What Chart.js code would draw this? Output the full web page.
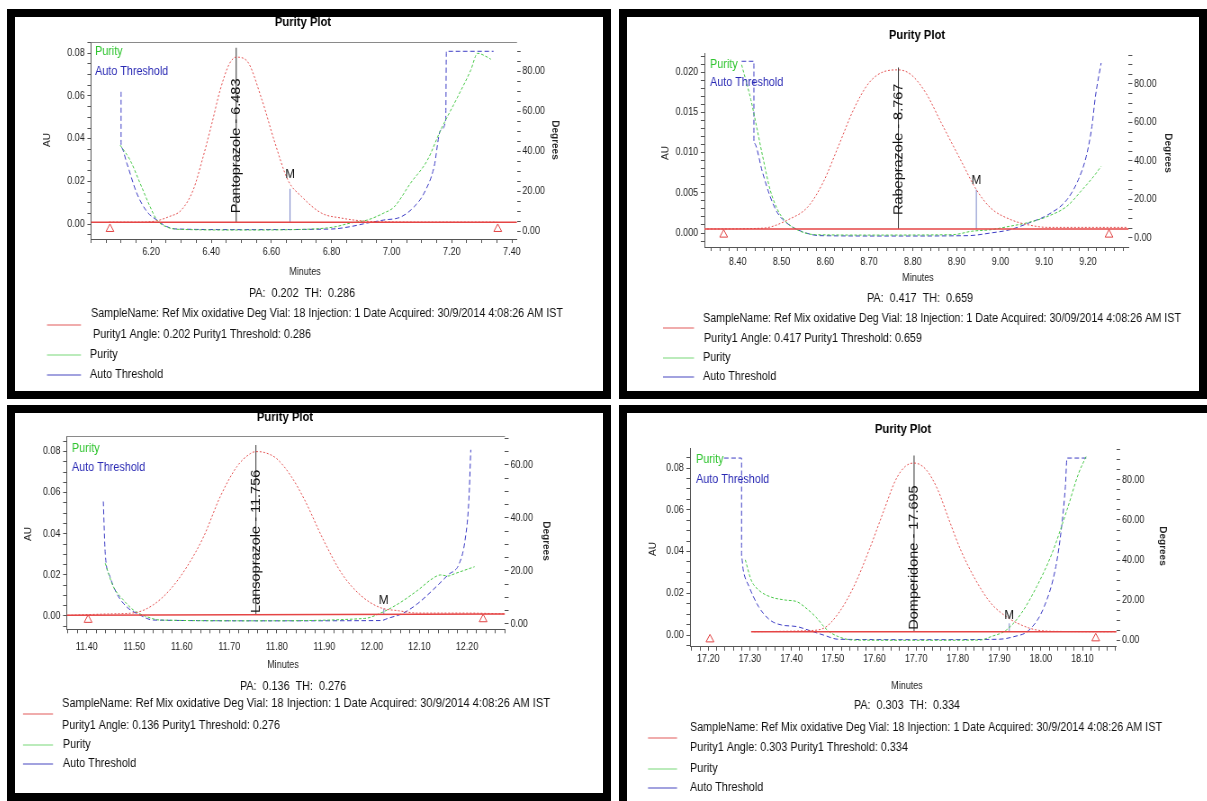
<!DOCTYPE html>
<html>
<head>
<meta charset="utf-8">
<style>
  body { margin: 0; background: #fff; width: 1207px; height: 801px; overflow: hidden; position: relative; }
  .panel { position: absolute; border: 8px solid #000; background: #fff; overflow: hidden; }
  .squash { position: absolute; left: 0; top: 0; transform-origin: 0 0; }
</style>
<script src="https://cdn.jsdelivr.net/npm/chart.js@4"></script>
</head>
<body>
<script>
// the source screenshots are horizontally squeezed, so every panel is drawn wider and scaled down
const SX = 0.9;
const FONT = '"Liberation Sans", Arial, sans-serif';

// ---- Pantoprazole (top left) ----
const pantoTime = [6.06, 6.15, 6.21, 6.26, 6.30, 6.34, 6.37, 6.40, 6.43, 6.46, 6.483, 6.517, 6.569, 6.609, 6.655, 6.701, 6.767, 6.833, 6.90, 7.00, 7.15, 7.35];
const pantoAU = [0.0009, 0.0009, 0.0013, 0.0035, 0.0065, 0.0160, 0.0300, 0.0460, 0.0630, 0.0750, 0.0782, 0.0767, 0.0580, 0.0393, 0.0206, 0.0128, 0.0051, 0.0028, 0.0015, 0.0010, 0.0009, 0.0009];
const pantoPurityTime = [6.097, 6.13, 6.163, 6.197, 6.219, 6.252, 6.30, 6.50, 6.70, 6.808, 6.863, 6.919, 6.974, 7.008, 7.063, 7.119, 7.163, 7.219, 7.263, 7.286, 7.319, 7.33];
const pantoPurity = [43, 35.5, 24, 12, 5.5, 2, 0.8, 0.5, 0.8, 2, 4, 5.5, 9, 12, 24, 35.5, 50.5, 67, 80.5, 89, 87, 86];
const pantoThreshTime = [6.10, 6.10, 6.119, 6.152, 6.186, 6.219, 6.252, 6.286, 6.50, 6.80, 6.863, 6.919, 6.974, 7.03, 7.074, 7.108, 7.141, 7.163, 7.18, 7.182, 7.339];
const pantoThresh = [69.7, 42, 34, 19, 9.7, 5.5, 2.2, 1, 0.7, 1, 2.2, 4, 5.5, 7, 12, 19, 32, 50.5, 56, 90, 90];
const pantoBaseTime = [6.0, 7.417];
const pantoBaseAU = [0.0009, 0.0009];
const pantoMarkTime = [6.063, 7.353];
const pantoMarkAU = [-0.0023, -0.0023];
const pantoApexTime = [6.483, 6.483];
const pantoApexAU = [0.0009, 0.0826];
const pantoMTime = [6.662, 6.662];
const pantoMAU = [0.0009, 0.0165];
const pantoTimeTicks = ['6.20', '6.40', '6.60', '6.80', '7.00', '7.20', '7.40'];
const pantoAUTicks = ['0.00', '0.02', '0.04', '0.06', '0.08'];
const pantoDegTicks = ['0.00', '20.00', '40.00', '60.00', '80.00'];
const pantoInfo = ['0.202', '0.286', '30/9/2014'];

// ---- Rabeprazole (top right) ----
const rabeTime = [8.33, 8.457, 8.517, 8.561, 8.596, 8.630, 8.665, 8.700, 8.735, 8.767, 8.796, 8.830, 8.865, 8.909, 8.945, 8.978, 9.022, 9.065, 9.109, 9.290];
const rabeAU = [0.0005, 0.0006, 0.0017, 0.0033, 0.0064, 0.0108, 0.0154, 0.0187, 0.0201, 0.0203, 0.0197, 0.0174, 0.0137, 0.0091, 0.0054, 0.0031, 0.0017, 0.0010, 0.0007, 0.0007];
const rabePurityTime = [8.409, 8.430, 8.443, 8.457, 8.474, 8.491, 8.509, 8.543, 8.578, 8.700, 8.891, 8.935, 8.978, 9.022, 9.065, 9.109, 9.152, 9.187, 9.213, 9.230];
const rabePurity = [90, 71.9, 58, 42.4, 25.1, 14.7, 8.7, 3.5, 1.7, 1.5, 1.7, 3.5, 4.3, 6.1, 8.1, 11.3, 16.5, 25.1, 32, 37.2];
const rabeThreshTime = [8.409, 8.437, 8.437, 8.457, 8.474, 8.491, 8.517, 8.552, 8.587, 8.750, 8.926, 8.978, 9.022, 9.065, 9.109, 9.152, 9.178, 9.196, 9.209, 9.217, 9.230];
const rabeThresh = [91.8, 91.8, 49.4, 33.8, 21.6, 13, 6.9, 2.9, 1.2, 1.0, 1.2, 2.6, 4.3, 7.8, 12.1, 19.9, 30.3, 42.4, 58, 73.6, 90.9];
const rabeBaseTime = [8.324, 9.293];
const rabeBaseAU = [0.0005, 0.0005];
const rabeMarkTime = [8.368, 9.248];
const rabeMarkAU = [-0.0002, -0.0002];
const rabeApexTime = [8.767, 8.767];
const rabeApexAU = [0.0005, 0.0206];
const rabeMTime = [8.945, 8.945];
const rabeMAU = [0.0005, 0.0054];
const rabeTimeTicks = ['8.40', '8.50', '8.60', '8.70', '8.80', '8.90', '9.00', '9.10', '9.20'];
const rabeAUTicks = ['0.000', '0.005', '0.010', '0.015', '0.020'];
const rabeDegTicks = ['0.00', '20.00', '40.00', '60.00', '80.00'];
const rabeInfo = ['0.417', '0.659', '30/09/2014'];

// ---- Lansoprazole (bottom left) ----
const lansoTime = [11.36, 11.45, 11.502, 11.540, 11.575, 11.611, 11.646, 11.681, 11.716, 11.744, 11.756, 11.775, 11.800, 11.830, 11.858, 11.898, 11.937, 11.977, 12.017, 12.057, 12.097, 12.20, 12.28];
const lansoAU = [0.0003, 0.0010, 0.0016, 0.0054, 0.0127, 0.0240, 0.0386, 0.0581, 0.0727, 0.0790, 0.0800, 0.0795, 0.0765, 0.0680, 0.0567, 0.0370, 0.0205, 0.0099, 0.0041, 0.0025, 0.0014, 0.0014, 0.0010];
const lansoPurityTime = [11.439, 11.456, 11.477, 11.498, 11.526, 11.554, 11.750, 11.985, 12.017, 12.057, 12.097, 12.128, 12.144, 12.160, 12.176, 12.216];
const lansoPurity = [22.9, 14.1, 9.1, 5.3, 2.8, 1.5, 1.2, 2.1, 4.0, 7.8, 12.8, 17.2, 18.5, 18.1, 19.1, 21.6];
const lansoThreshTime = [11.435, 11.439, 11.449, 11.463, 11.484, 11.512, 11.540, 11.780, 12.020, 12.033, 12.065, 12.097, 12.128, 12.160, 12.184, 12.196, 12.204, 12.208];
const lansoThresh = [46.2, 26.7, 17.9, 11.6, 6.5, 3.4, 1.5, 1.2, 1.3, 2.1, 4.0, 7.8, 12.8, 18.5, 22.9, 31.7, 46.8, 65.7];
const lansoBaseTime = [11.358, 12.28];
const lansoBaseAU = [0.0004, 0.0010];
const lansoMarkTime = [11.403, 12.234];
const lansoMarkAU = [-0.0019, -0.0016];
const lansoApexTime = [11.756, 11.756];
const lansoApexAU = [0.0005, 0.0832];
const lansoMTime = [12.025, 12.025];
const lansoMAU = [0.0007, 0.0035];
const lansoTimeTicks = ['11.40', '11.50', '11.60', '11.70', '11.80', '11.90', '12.00', '12.10', '12.20'];
const lansoAUTicks = ['0.00', '0.02', '0.04', '0.06', '0.08'];
const lansoDegTicks = ['0.00', '20.00', '40.00', '60.00'];
const lansoInfo = ['0.136', '0.276', '30/9/2014'];

// ---- Domperidone (bottom right) ----
const dompTime = [17.31, 17.44, 17.477, 17.513, 17.550, 17.587, 17.623, 17.651, 17.674, 17.695, 17.724, 17.752, 17.779, 17.807, 17.843, 17.880, 17.917, 17.953, 17.990, 18.05, 18.18];
const dompAU = [0.0016, 0.0021, 0.0032, 0.0104, 0.0232, 0.0408, 0.0600, 0.0744, 0.0808, 0.0824, 0.0792, 0.0696, 0.0552, 0.0408, 0.0264, 0.0152, 0.0088, 0.0048, 0.0024, 0.0017, 0.0016];
const dompPurityTime = [17.289, 17.303, 17.321, 17.348, 17.385, 17.413, 17.431, 17.458, 17.486, 17.513, 17.550, 17.700, 17.853, 17.880, 17.917, 17.953, 17.990, 18.027, 18.063, 18.091, 18.109];
const dompPurity = [40.2, 30.2, 25.2, 21.9, 20.2, 19.4, 16.9, 11.9, 5.3, 2.0, 0.3, 0.2, 0.3, 2.0, 5.3, 13.6, 26.9, 43.5, 65.1, 83.3, 91.6];
const dompThreshTime = [17.238, 17.280, 17.280, 17.284, 17.298, 17.321, 17.348, 17.376, 17.413, 17.440, 17.477, 17.513, 17.700, 17.898, 17.935, 17.972, 18.008, 18.036, 18.050, 18.059, 18.063, 18.114];
const dompThresh = [90.8, 90.8, 41.8, 35.2, 26.9, 16.9, 10.3, 7.8, 7.0, 5.3, 2.8, 0.7, 0.5, 0.7, 2.0, 5.3, 16.9, 36.8, 56.8, 76.7, 90.8, 90.8];
const dompBaseTime = [17.303, 18.182];
const dompBaseAU = [0.0016, 0.0016];
const dompMarkTime = [17.204, 18.132];
const dompMarkAU = [-0.0021, -0.0016];
const dompApexTime = [17.695, 17.695];
const dompApexAU = [0.0016, 0.0860];
const dompMTime = [17.924, 17.924];
const dompMAU = [0.0016, 0.0056];
const dompTimeTicks = ['17.20', '17.30', '17.40', '17.50', '17.60', '17.70', '17.80', '17.90', '18.00', '18.10'];
const dompAUTicks = ['0.00', '0.02', '0.04', '0.06', '0.08'];
const dompDegTicks = ['0.00', '20.00', '40.00', '60.00', '80.00'];
const dompInfo = ['0.303', '0.334', '30/9/2014'];

// panel layout, in screen pixels relative to the white inner area of each panel
const panels = [
  {
    box: {left: 7, top: 9, w: 588, h: 374, right: 8, bottom: 8},
    area: {l: 76, r: 502, t: 25, b: 222},
    x: {min: 6.0, max: 7.417, step: 0.05, ticks: pantoTimeTicks, pad: 3},
    au: {min: -0.007, max: 0.0853, step: 0.005, ticks: pantoAUTicks, dec: 2},
    deg: {min: -4, max: 94.65, step: 5, ticks: pantoDegTicks},
    d: {peak: [pantoTime, pantoAU], pur: [pantoPurityTime, pantoPurity], thr: [pantoThreshTime, pantoThresh],
        base: [pantoBaseTime, pantoBaseAU], mark: [pantoMarkTime, pantoMarkAU], apex: [pantoApexTime, pantoApexAU], m: [pantoMTime, pantoMAU]},
    name: 'Pantoprazole - 6.483', info: pantoInfo, frameTop: true,
    pos: {title: [288, 6], au: [33, 123], deg: [540, 123], minutes: [290, 255], pa: [287, 277],
          sample: [76, 297, 472], angle: [78, 318], purity: [75, 338], auto: [75, 358], legX: [32, 66], redY: 308,
          legPurity: [80, 35], legAuto: [80, 55], labelGap: 9, mGap: 14}
  },
  {
    box: {left: 619, top: 9, w: 572, h: 374, right: 8, bottom: 8},
    area: {l: 77.4, r: 501.7, t: 36, b: 230},
    x: {min: 8.324, max: 9.293, step: 0.02, ticks: rabeTimeTicks, pad: 5},
    au: {min: -0.00174, max: 0.0224, step: 0.001, ticks: rabeAUTicks, dec: 3},
    deg: {min: -4.7, max: 96.1, step: 5, ticks: rabeDegTicks},
    d: {peak: [rabeTime, rabeAU], pur: [rabePurityTime, rabePurity], thr: [rabeThreshTime, rabeThresh],
        base: [rabeBaseTime, rabeBaseAU], mark: [rabeMarkTime, rabeMarkAU], apex: [rabeApexTime, rabeApexAU], m: [rabeMTime, rabeMAU]},
    name: 'Rabeprazole - 8.767', info: rabeInfo, frameTop: false,
    pos: {title: [290, 19], au: [39, 136], deg: [541, 136], minutes: [291, 261], pa: [293, 282],
          sample: [76, 302, 478], angle: [77, 322], purity: [76, 341], auto: [76, 360], legX: [36, 67], redY: 311,
          legPurity: [83, 48], legAuto: [83, 66], labelGap: 14, mGap: 9}
  },
  {
    box: {left: 7, top: 405, w: 588, h: 380, right: 8, bottom: 8},
    area: {l: 51.7, r: 490, t: 23, b: 216.3},
    x: {min: 11.358, max: 12.28, step: 0.02, ticks: lansoTimeTicks, pad: 8},
    au: {min: -0.0065, max: 0.0876, step: 0.005, ticks: lansoAUTicks, dec: 2},
    deg: {min: -2, max: 70.9, step: 5, ticks: lansoDegTicks},
    d: {peak: [lansoTime, lansoAU], pur: [lansoPurityTime, lansoPurity], thr: [lansoThreshTime, lansoThresh],
        base: [lansoBaseTime, lansoBaseAU], mark: [lansoMarkTime, lansoMarkAU], apex: [lansoApexTime, lansoApexAU], m: [lansoMTime, lansoMAU]},
    name: 'Lansoprazole - 11.756', info: lansoInfo, frameTop: true,
    pos: {title: [270, 5], au: [14, 121], deg: [531, 128], minutes: [268, 252], pa: [278, 274],
          sample: [47, 291, 488], angle: [47, 313], purity: [48, 332], auto: [48, 351], legX: [8, 38], redY: 301,
          legPurity: [57, 36], legAuto: [57, 55], labelGap: 2, mGap: 8}
  },
  {
    box: {left: 619, top: 405, w: 580, h: 388, right: 0, bottom: 0},
    area: {l: 63, r: 489.5, t: 35, b: 233.7},
    x: {min: 17.156, max: 18.182, step: 0.02, ticks: dompTimeTicks, pad: 3},
    au: {min: -0.0056, max: 0.0896, step: 0.005, ticks: dompAUTicks, dec: 2},
    deg: {min: -3, max: 95.8, step: 5, ticks: dompDegTicks},
    d: {peak: [dompTime, dompAU], pur: [dompPurityTime, dompPurity], thr: [dompThreshTime, dompThresh],
        base: [dompBaseTime, dompBaseAU], mark: [dompMarkTime, dompMarkAU], apex: [dompApexTime, dompApexAU], m: [dompMTime, dompMAU]},
    name: 'Domperidone - 17.695', info: dompInfo, frameTop: false,
    pos: {title: [276, 17], au: [26, 136], deg: [535, 133], minutes: [280, 273], pa: [280, 293],
          sample: [63, 315, 472], angle: [63, 335], purity: [63, 356], auto: [63, 375], legX: [21, 50], redY: 325,
          legPurity: [69, 47], legAuto: [69, 67], labelGap: 2, mGap: 8}
  }
];

Chart.defaults.font.family = FONT;
Chart.defaults.font.size = 10;
Chart.defaults.color = '#222';

function pts(xs, ys) {
  return xs.map((x, i) => ({x: x, y: ys[i]}));
}

// only label the ticks listed, every other tick stays a bare mark
function tickLabel(list, dec, step) {
  return function (value) {
    const s = value.toFixed(dec);
    return list.includes(s) && Math.abs(value - parseFloat(s)) < step / 10 ? s : '';
  };
}

// text helpers: x given in screen px, converted to the wider canvas
function text(ctx, str, x, y, font, color, align) {
  ctx.font = font;
  ctx.fillStyle = color;
  ctx.textAlign = align || 'left';
  ctx.textBaseline = 'middle';
  ctx.fillText(str, x / SX, y);
}

function fitText(ctx, str, x, y, w, font, color) {
  ctx.save();
  ctx.font = font;
  ctx.fillStyle = color;
  ctx.textAlign = 'left';
  ctx.textBaseline = 'middle';
  const m = ctx.measureText(str).width;
  ctx.translate(x / SX, y);
  ctx.scale((w / SX) / m, 1);
  ctx.fillText(str, 0, 0);
  ctx.restore();
}

function rotText(ctx, str, cx, cy, ang, font, color, align) {
  ctx.save();
  ctx.translate(cx, cy);
  ctx.rotate(ang);
  ctx.font = font;
  ctx.fillStyle = color;
  ctx.textAlign = align;
  ctx.textBaseline = 'middle';
  ctx.fillText(str, 0, 0);
  ctx.restore();
}

function hline(ctx, x1, x2, y, color, w) {
  ctx.beginPath();
  ctx.strokeStyle = color;
  ctx.lineWidth = w || 1;
  ctx.moveTo(x1 / SX, y);
  ctx.lineTo(x2 / SX, y);
  ctx.stroke();
}

function makePanel(p, idx) {
  const div = document.createElement('div');
  div.className = 'panel';
  div.style.left = p.box.left + 'px';
  div.style.top = p.box.top + 'px';
  div.style.width = p.box.w + 'px';
  div.style.height = p.box.h + 'px';
  div.style.borderRightWidth = p.box.right + 'px';
  div.style.borderBottomWidth = p.box.bottom + 'px';
  const sq = document.createElement('div');
  sq.className = 'squash';
  sq.style.transform = 'scaleX(' + SX + ')';
  const canvas = document.createElement('canvas');
  const W = Math.round(p.box.w / SX);
  const H = p.box.h;
  canvas.width = W;
  canvas.height = H;
  sq.appendChild(canvas);
  div.appendChild(sq);
  document.body.appendChild(div);

  const yW = 45, y1W = 45, xH = 25;
  const L = p.area.l / SX, R = p.area.r / SX;
  const pos = p.pos;
  const d = p.d;

  const overlay = {
    id: 'panelText' + idx,
    afterDraw(chart) {
      const ctx = chart.ctx;
      const xs = chart.scales.x, ys = chart.scales.y;
      const ca = chart.chartArea;
      ctx.save();
      if (p.frameTop) {
        ctx.beginPath();
        ctx.strokeStyle = '#8a8a8a';
        ctx.lineWidth = 1;
        ctx.moveTo(ca.left, ca.top + 0.5);
        ctx.lineTo(ca.right, ca.top + 0.5);
        ctx.stroke();
      }
      text(ctx, 'Purity Plot', pos.title[0], pos.title[1], 'bold 12.5px ' + FONT, '#000', 'center');
      rotText(ctx, 'AU', pos.au[0] / SX, pos.au[1], -Math.PI / 2, '10px ' + FONT, '#222', 'center');
      rotText(ctx, 'Degrees', pos.deg[0] / SX, pos.deg[1], Math.PI / 2, 'bold 10px ' + FONT, '#222', 'center');
      text(ctx, 'Minutes', pos.minutes[0], pos.minutes[1], '10px ' + FONT, '#222', 'center');

      // in-plot legend
      text(ctx, 'Purity', pos.legPurity[0], pos.legPurity[1], '12px ' + FONT, '#2fc42f');
      text(ctx, 'Auto Threshold', pos.legAuto[0], pos.legAuto[1], '12px ' + FONT, '#2a2ab4');

      // peak name along the apex line
      const ax = xs.getPixelForValue(d.apex[0][0]);
      const ay = ys.getPixelForValue(d.apex[1][0]) - pos.labelGap;
      rotText(ctx, p.name, ax, ay, -Math.PI / 2, '14.5px ' + FONT, '#111', 'left');

      // M marker
      const mx = xs.getPixelForValue(d.m[0][1]);
      const my = ys.getPixelForValue(d.m[1][1]) - pos.mGap;
      ctx.font = '13px ' + FONT;
      ctx.fillStyle = '#111';
      ctx.textAlign = 'center';
      ctx.textBaseline = 'middle';
      ctx.fillText('M', mx, my);

      // text block under the plot
      text(ctx, 'PA:  ' + p.info[0] + '  TH:  ' + p.info[1], pos.pa[0], pos.pa[1], '12px ' + FONT, '#111', 'center');
      fitText(ctx, 'SampleName: Ref Mix oxidative Deg Vial: 18 Injection: 1 Date Acquired: ' + p.info[2] + ' 4:08:26 AM IST',
        pos.sample[0], pos.sample[1], pos.sample[2], '12px ' + FONT, '#111');
      text(ctx, 'Purity1 Angle: ' + p.info[0] + ' Purity1 Threshold: ' + p.info[1], pos.angle[0], pos.angle[1], '12px ' + FONT, '#111');
      text(ctx, 'Purity', pos.purity[0], pos.purity[1], '12px ' + FONT, '#111');
      text(ctx, 'Auto Threshold', pos.auto[0], pos.auto[1], '12px ' + FONT, '#111');
      hline(ctx, pos.legX[0], pos.legX[1], pos.redY, '#e25a5a', 1.2);
      hline(ctx, pos.legX[0], pos.legX[1], pos.purity[1], '#78d878', 1.2);
      hline(ctx, pos.legX[0], pos.legX[1], pos.auto[1], '#4646c0', 1.2);
      ctx.restore();
    }
  };

  const tickGrid = {drawOnChartArea: false, drawTicks: true, tickLength: 4, color: '#555', tickColor: '#555'};

  return new Chart(canvas, {
    type: 'line',
    data: {
      datasets: [
        {data: pts(d.base[0], d.base[1]), yAxisID: 'y', borderColor: '#e54545', borderWidth: 1.5, pointRadius: 0},
        {data: pts(d.peak[0], d.peak[1]), yAxisID: 'y', borderColor: 'rgba(226,70,70,0.95)', borderWidth: 1,
          borderDash: [2, 2], pointRadius: 0, cubicInterpolationMode: 'monotone'},
        {data: pts(d.pur[0], d.pur[1]), yAxisID: 'y1', borderColor: '#48c848', borderWidth: 1,
          borderDash: [3, 2], pointRadius: 0, cubicInterpolationMode: 'monotone'},
        {data: pts(d.thr[0], d.thr[1]), yAxisID: 'y1', borderColor: '#3b3bc4', borderWidth: 1,
          borderDash: [5, 3], pointRadius: 0, cubicInterpolationMode: 'monotone'},
        {data: pts(d.apex[0], d.apex[1]), yAxisID: 'y', borderColor: '#333', borderWidth: 1, pointRadius: 0},
        {data: pts(d.m[0], d.m[1]), yAxisID: 'y', borderColor: '#7a86c8', borderWidth: 1, pointRadius: 0},
        {data: pts(d.mark[0], d.mark[1]), yAxisID: 'y', showLine: false, pointStyle: 'triangle', pointRadius: 5,
          borderColor: '#e04040', backgroundColor: 'rgba(255,255,255,0)', borderWidth: 1}
      ]
    },
    options: {
      responsive: false,
      animation: false,
      devicePixelRatio: 1,
      events: [],
      layout: {
        autoPadding: false,
        padding: {left: L - yW, right: W - R - y1W, top: p.area.t, bottom: H - p.area.b - xH}
      },
      plugins: {legend: {display: false}, tooltip: {enabled: false}, title: {display: false}},
      scales: {
        x: {
          type: 'linear', min: p.x.min, max: p.x.max,
          afterFit: (s) => { s.height = xH; },
          ticks: {stepSize: p.x.step, autoSkip: false, maxRotation: 0, includeBounds: false, padding: p.x.pad,
            callback: tickLabel(p.x.ticks, 2, p.x.step)},
          grid: tickGrid,
          border: {display: true, color: '#555', width: 1}
        },
        y: {
          position: 'left', min: p.au.min, max: p.au.max,
          afterFit: (s) => { s.width = yW; },
          ticks: {stepSize: p.au.step, autoSkip: false, includeBounds: false, padding: 3,
            callback: tickLabel(p.au.ticks, p.au.dec, p.au.step)},
          grid: tickGrid,
          border: {display: true, color: '#555', width: 1}
        },
        y1: {
          position: 'right', min: p.deg.min, max: p.deg.max,
          afterFit: (s) => { s.width = y1W; },
          ticks: {stepSize: p.deg.step, autoSkip: false, includeBounds: false, padding: 2,
            callback: tickLabel(p.deg.ticks, 2, p.deg.step)},
          grid: tickGrid,
          border: {display: false}
        }
      }
    },
    plugins: [overlay]
  });
}

panels.forEach(makePanel);
</script>
</body>
</html>
